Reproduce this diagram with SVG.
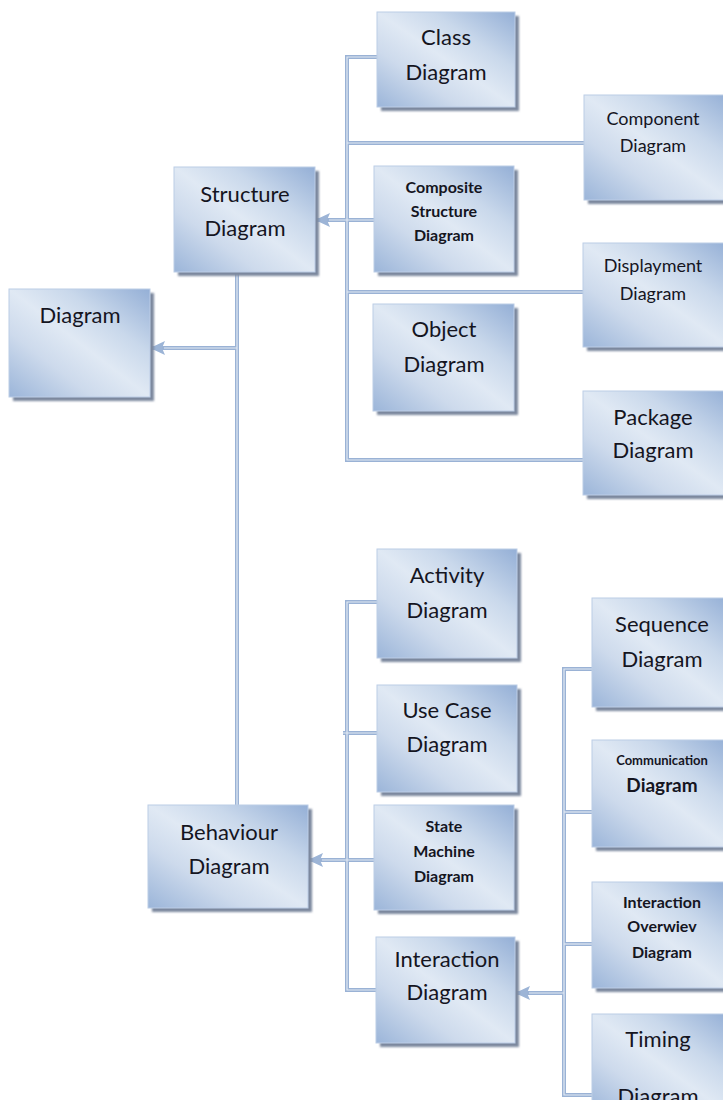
<svg xmlns="http://www.w3.org/2000/svg" width="723" height="1113" viewBox="0 0 723 1113">
  <defs>
    <linearGradient id="boxFill" x1="1" y1="0" x2="0" y2="1">
      <stop offset="0" stop-color="#94afd6"/>
      <stop offset="0.3" stop-color="#c9d8eb"/>
      <stop offset="0.5" stop-color="#e0e9f4"/>
      <stop offset="0.7" stop-color="#cddaec"/>
      <stop offset="1" stop-color="#9bb5d9"/>
    </linearGradient>
    <filter id="soft" x="-10%" y="-10%" width="120%" height="120%">
      <feGaussianBlur stdDeviation="0.8"/>
    </filter>
    <marker id="head" markerUnits="userSpaceOnUse" markerWidth="16" markerHeight="16" refX="15" refY="8" orient="auto">
      <path d="M0,1 L15,8 L0,15 L3,8 z" fill="#9cb4d6"/>
    </marker>
    <clipPath id="pageBottom">
      <rect x="0" y="0" width="723" height="1100"/>
    </clipPath>
    <style>
      .shadow { fill: #7b889e; filter: url(#soft); }
      .box { fill: url(#boxFill); stroke: #bccde6; stroke-width: 1; }
      .wire { fill: none; stroke: #9ab2d5; stroke-width: 4; }
      .wire-hi { fill: none; stroke: #e2eaf4; stroke-width: 1.2; }
      text { font-family: Lato, "Liberation Sans", sans-serif; fill: #15151f; text-anchor: middle; }
      .big { font-size: 22px; }
      .mid { font-size: 18px; }
      .bold { font-weight: bold; }
    </style>
  </defs>

  <rect width="723" height="1113" fill="#ffffff"/>

  <!-- connectors -->
  <g id="connectors">
    <!-- structure branch bus -->
    <path class="wire" d="M377,57 H347 V460 H583"/>
    <path class="wire" d="M347,143 H584"/>
    <path class="wire" d="M347,292 H583"/>
    <path class="wire" d="M374,220 H315" marker-end="url(#head)"/>
    <!-- main trunk -->
    <path class="wire" d="M237,272 V805"/>
    <path class="wire" d="M237,348 H150" marker-end="url(#head)"/>
    <!-- behaviour branch bus -->
    <path class="wire" d="M377,602 H347 V990 H376"/>
    <path class="wire" d="M343,733 H377"/>
    <path class="wire" d="M374,860 H308" marker-end="url(#head)"/>
    <!-- interaction branch bus -->
    <path class="wire" d="M592,669 H564 V1095 H592"/>
    <path class="wire" d="M564,812 H592"/>
    <path class="wire" d="M564,944 H592"/>
    <path class="wire" d="M564,993 H515" marker-end="url(#head)"/>
    <!-- light inner lines -->
    <path class="wire-hi" d="M377,57 H347 V460 H583"/>
    <path class="wire-hi" d="M347,143 H584"/>
    <path class="wire-hi" d="M347,292 H583"/>
    <path class="wire-hi" d="M374,220 H329"/>
    <path class="wire-hi" d="M237,272 V805"/>
    <path class="wire-hi" d="M237,348 H164"/>
    <path class="wire-hi" d="M377,602 H347 V990 H376"/>
    <path class="wire-hi" d="M343,733 H377"/>
    <path class="wire-hi" d="M374,860 H322"/>
    <path class="wire-hi" d="M592,669 H564 V1095 H592"/>
    <path class="wire-hi" d="M564,812 H592"/>
    <path class="wire-hi" d="M564,944 H592"/>
    <path class="wire-hi" d="M564,993 H529"/>
  </g>

  <g id="diagram">
    <rect class="shadow" x="13" y="293" width="141" height="108"/>
    <rect class="box" x="9" y="289" width="141" height="108"/>
    <text class="big" x="80" y="323">Diagram</text>
  </g>

  <g id="structure-diagram">
    <rect class="shadow" x="178" y="171" width="141" height="105"/>
    <rect class="box" x="174" y="167" width="141" height="105"/>
    <text class="big" x="245" y="202">Structure</text>
    <text class="big" x="245" y="236">Diagram</text>
  </g>

  <g id="behaviour-diagram">
    <rect class="shadow" x="152" y="809" width="160" height="103"/>
    <rect class="box" x="148" y="805" width="160" height="103"/>
    <text class="big" x="229" y="840">Behaviour</text>
    <text class="big" x="229" y="874">Diagram</text>
  </g>

  <g id="class-diagram">
    <rect class="shadow" x="381" y="16" width="138" height="95"/>
    <rect class="box" x="377" y="12" width="138" height="95"/>
    <text class="big" x="446" y="45">Class</text>
    <text class="big" x="446" y="80">Diagram</text>
  </g>

  <g id="component-diagram">
    <rect class="shadow" x="588" y="99" width="145" height="105"/>
    <rect class="box" x="584" y="95" width="145" height="105"/>
    <text class="mid" x="653" y="125">Component</text>
    <text class="mid" x="653" y="152">Diagram</text>
  </g>

  <g id="composite-structure-diagram">
    <rect class="shadow" x="378" y="170" width="140" height="106"/>
    <rect class="box" x="374" y="166" width="140" height="106"/>
    <text class="bold" font-size="16" x="444" y="193">Composite</text>
    <text class="bold" font-size="16" x="444" y="217">Structure</text>
    <text class="bold" font-size="16" x="444" y="241">Diagram</text>
  </g>

  <g id="displayment-diagram">
    <rect class="shadow" x="587" y="247" width="146" height="104"/>
    <rect class="box" x="583" y="243" width="146" height="104"/>
    <text class="mid" x="653" y="272">Displayment</text>
    <text class="mid" x="653" y="300">Diagram</text>
  </g>

  <g id="object-diagram">
    <rect class="shadow" x="377" y="308" width="141" height="107"/>
    <rect class="box" x="373" y="304" width="141" height="107"/>
    <text class="big" x="444" y="337">Object</text>
    <text class="big" x="444" y="372">Diagram</text>
  </g>

  <g id="package-diagram">
    <rect class="shadow" x="587" y="395" width="146" height="104"/>
    <rect class="box" x="583" y="391" width="146" height="104"/>
    <text class="big" x="653" y="425">Package</text>
    <text class="big" x="653" y="458">Diagram</text>
  </g>

  <g id="activity-diagram">
    <rect class="shadow" x="381" y="553" width="140" height="109"/>
    <rect class="box" x="377" y="549" width="140" height="109"/>
    <text class="big" x="447" y="583">Activity</text>
    <text class="big" x="447" y="618">Diagram</text>
  </g>

  <g id="use-case-diagram">
    <rect class="shadow" x="381" y="689" width="140" height="107"/>
    <rect class="box" x="377" y="685" width="140" height="107"/>
    <text class="big" x="447" y="718">Use Case</text>
    <text class="big" x="447" y="752">Diagram</text>
  </g>

  <g id="state-machine-diagram">
    <rect class="shadow" x="378" y="809" width="140" height="105"/>
    <rect class="box" x="374" y="805" width="140" height="105"/>
    <text class="bold" font-size="16" x="444" y="832">State</text>
    <text class="bold" font-size="16" x="444" y="857">Machine</text>
    <text class="bold" font-size="16" x="444" y="882">Diagram</text>
  </g>

  <g id="interaction-diagram">
    <rect class="shadow" x="380" y="941" width="139" height="106"/>
    <rect class="box" x="376" y="937" width="139" height="106"/>
    <text class="big" x="447" y="967">Interaction</text>
    <text class="big" x="447" y="1000">Diagram</text>
  </g>

  <g id="sequence-diagram">
    <rect class="shadow" x="596" y="602" width="137" height="109"/>
    <rect class="box" x="592" y="598" width="137" height="109"/>
    <text class="big" x="662" y="632">Sequence</text>
    <text class="big" x="662" y="667">Diagram</text>
  </g>

  <g id="communication-diagram">
    <rect class="shadow" x="596" y="744" width="137" height="107"/>
    <rect class="box" x="592" y="740" width="137" height="107"/>
    <text class="bold" font-size="13" x="662" y="765">Communication</text>
    <text class="bold" font-size="19" x="662" y="792">Diagram</text>
  </g>

  <g id="interaction-overview-diagram">
    <rect class="shadow" x="596" y="886" width="137" height="106"/>
    <rect class="box" x="592" y="882" width="137" height="106"/>
    <text class="bold" font-size="16" x="662" y="908">Interaction</text>
    <text class="bold" font-size="16" x="662" y="932">Overwiev</text>
    <text class="bold" font-size="16" x="662" y="958">Diagram</text>
  </g>

  <g id="timing-diagram" clip-path="url(#pageBottom)">
    <rect class="shadow" x="596" y="1018" width="137" height="100"/>
    <rect class="box" x="592" y="1014" width="137" height="100"/>
    <text class="big" x="658" y="1047">Timing</text>
    <text class="big" x="658" y="1104">Diagram</text>
  </g>
</svg>
